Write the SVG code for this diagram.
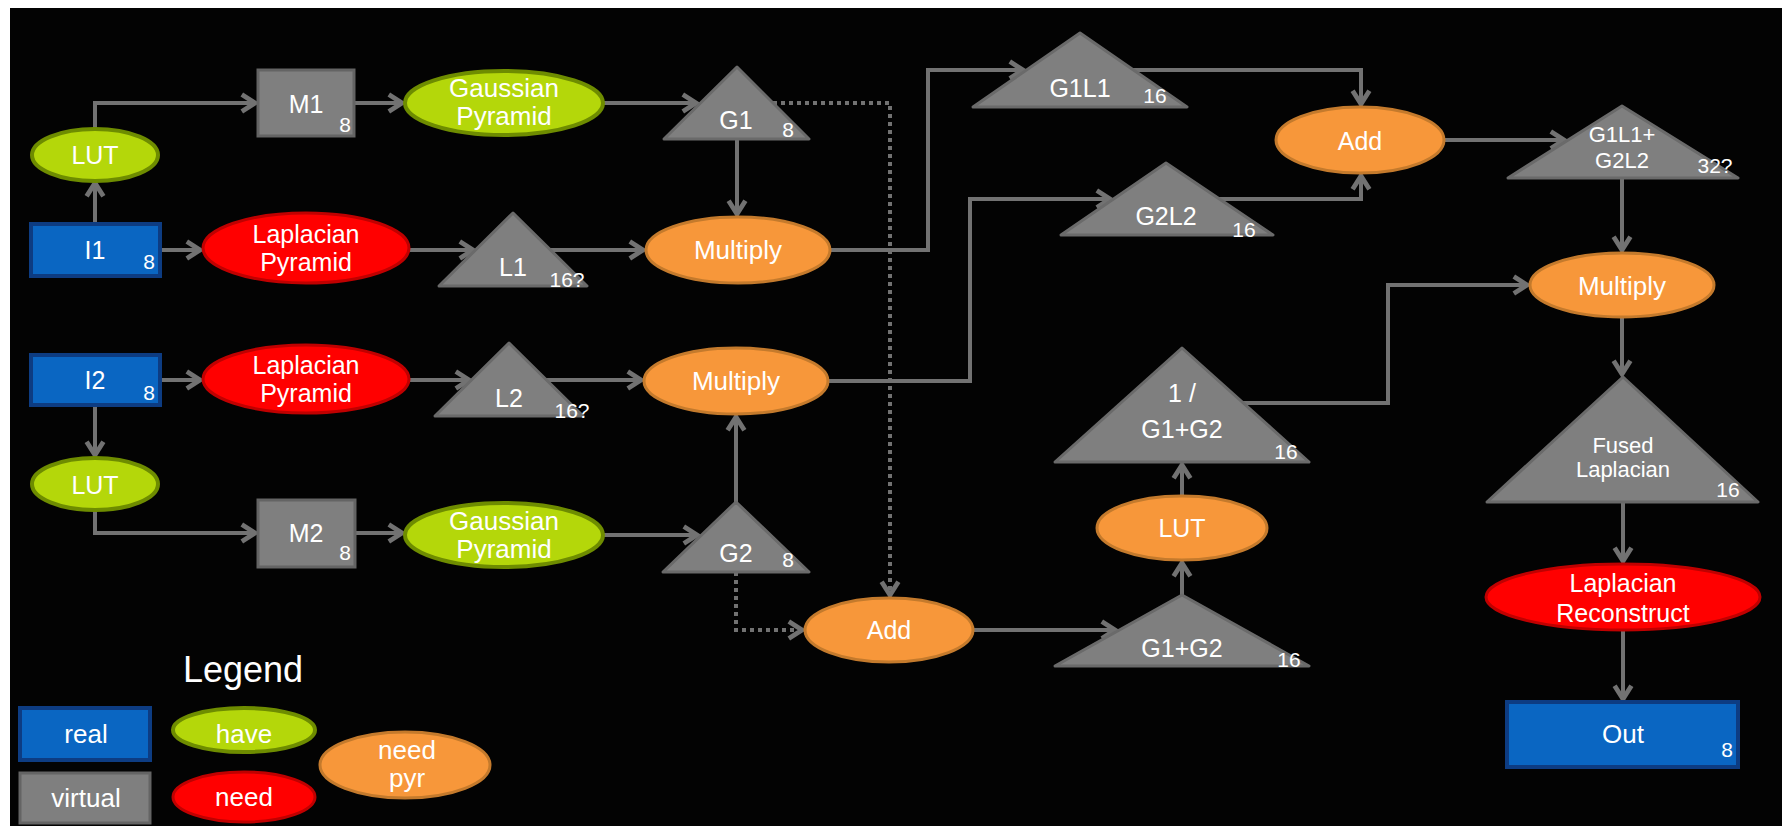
<svg xmlns="http://www.w3.org/2000/svg" width="1787" height="832" viewBox="0 0 1787 832">
<defs>
<style>
.t{font-family:"Liberation Sans",Arial,sans-serif;fill:#ffffff;text-anchor:middle;font-size:25px}
.m{font-size:26px}
.s{font-size:22px}
.n{font-size:21px}
.lg{font-size:26px}
.blue{fill:#0a66c2;stroke:#0d3c82;stroke-width:4}
.gray{fill:#7f7f7f;stroke:#646464;stroke-width:3}
.green{fill:#b4d70a;stroke:#6e8c00;stroke-width:4}
.red{fill:#ff0000;stroke:#c00000;stroke-width:3}
.orange{fill:#f7973a;stroke:#c47a2c;stroke-width:3}
.tri{fill:#7f7f7f;stroke:#6a6a6a;stroke-width:3;stroke-linejoin:round}
.c{fill:none;stroke:#727272;stroke-width:4;marker-end:url(#arr)}
.d{fill:none;stroke:#727272;stroke-width:4;stroke-dasharray:4 4;marker-end:url(#arr)}
</style>
<marker id="arr" markerUnits="userSpaceOnUse" markerWidth="24" markerHeight="24" viewBox="0 0 20 20" refX="16" refY="10" orient="auto" overflow="visible">
<path d="M5,3 L16,10 L5,17" fill="none" stroke="#727272" stroke-width="4"/>
</marker>
</defs>
<rect x="0" y="0" width="1787" height="832" fill="#ffffff"/>
<rect x="10" y="8" width="1772" height="818" fill="#030303"/>
<g id="connectors">
<path class="c" d="M95,224 V183"/>
<path class="c" d="M95,129 V103 H255"/>
<path class="c" d="M354,103 H402"/>
<path class="c" d="M603,103 H696"/>
<path class="c" d="M160,250 H200"/>
<path class="c" d="M409,250 H473"/>
<path class="c" d="M550,250 H643"/>
<path class="c" d="M737,139 V214"/>
<path class="c" d="M830,250 H928 V70 H1023"/>
<path class="c" d="M1133,70 H1361 V104"/>
<path class="c" d="M1219,199 H1361 V176"/>
<path class="c" d="M1444,140 H1564"/>
<path class="c" d="M1622,178 V250"/>
<path class="c" d="M1622,317 V374"/>
<path class="c" d="M1623,502 V561"/>
<path class="c" d="M1623,630 V699"/>
<path class="c" d="M160,380 H200"/>
<path class="c" d="M409,380 H469"/>
<path class="c" d="M546,380 H641"/>
<path class="c" d="M95,405 V455"/>
<path class="c" d="M95,510 V533 H255"/>
<path class="c" d="M355,533 H402"/>
<path class="c" d="M603,535 H697"/>
<path class="c" d="M736,502 V417"/>
<path class="c" d="M828,381 H970 V199 H1110"/>
<path class="d" d="M773,103 H890 V595"/>
<path class="d" d="M736,572 V630 H802"/>
<path class="c" d="M973,630 H1115"/>
<path class="c" d="M1182,595 V563"/>
<path class="c" d="M1182,496 V465"/>
<path class="c" d="M1243,403 H1388 V285 H1527"/>
</g>
<g id="I1"><rect class="blue" x="31" y="224" width="129" height="52"/><text class="t" x="95" y="259">I1</text><text class="t n" x="149" y="269">8</text></g>
<g id="LUT1"><ellipse class="green" cx="95" cy="155" rx="63" ry="26"/><text class="t" x="95" y="164">LUT</text></g>
<g id="M1"><rect class="gray" x="258" y="70" width="96" height="66"/><text class="t" x="306" y="113">M1</text><text class="t n" x="345" y="132">8</text></g>
<g id="GP1"><ellipse class="green" cx="504" cy="103" rx="99" ry="32"/><text class="t m" x="504" y="97">Gaussian</text><text class="t m" x="504" y="125">Pyramid</text></g>
<g id="LP1"><ellipse class="red" cx="306" cy="248" rx="103" ry="35"/><text class="t" x="306" y="243">Laplacian</text><text class="t" x="306" y="271">Pyramid</text></g>
<g id="L1"><polygon class="tri" points="513,213 587,286 439,286"/><text class="t" x="513" y="276">L1</text><text class="t n" x="567" y="287">16?</text></g>
<g id="G1"><polygon class="tri" points="737,67 809,139 664,139"/><text class="t" x="736" y="129">G1</text><text class="t n" x="788" y="137">8</text></g>
<g id="Multiply1"><ellipse class="orange" cx="738" cy="250" rx="92" ry="33"/><text class="t m" x="738" y="259">Multiply</text></g>
<g id="G1L1"><polygon class="tri" points="1080,33 1187,107 973,107"/><text class="t" x="1080" y="97">G1L1</text><text class="t n" x="1155" y="103">16</text></g>
<g id="G2L2"><polygon class="tri" points="1166,163 1273,235 1061,235"/><text class="t" x="1166" y="225">G2L2</text><text class="t n" x="1244" y="237">16</text></g>
<g id="Add1"><ellipse class="orange" cx="1360" cy="140" rx="84" ry="33"/><text class="t" x="1360" y="150">Add</text></g>
<g id="G1L1G2L2"><polygon class="tri" points="1622,106 1738,178 1508,178"/><text class="t s" x="1622" y="142">G1L1+</text><text class="t s" x="1622" y="168">G2L2</text><text class="t n" x="1715" y="173">32?</text></g>
<g id="Multiply3"><ellipse class="orange" cx="1622" cy="285" rx="92" ry="32"/><text class="t m" x="1622" y="295">Multiply</text></g>
<g id="I2"><rect class="blue" x="31" y="355" width="129" height="50"/><text class="t" x="95" y="389">I2</text><text class="t n" x="149" y="400">8</text></g>
<g id="LP2"><ellipse class="red" cx="306" cy="379" rx="103" ry="34"/><text class="t" x="306" y="374">Laplacian</text><text class="t" x="306" y="402">Pyramid</text></g>
<g id="L2"><polygon class="tri" points="509,343 583,416 435,416"/><text class="t" x="509" y="407">L2</text><text class="t n" x="572" y="418">16?</text></g>
<g id="LUT2"><ellipse class="green" cx="95" cy="484" rx="63" ry="26"/><text class="t" x="95" y="494">LUT</text></g>
<g id="M2"><rect class="gray" x="258" y="500" width="97" height="67"/><text class="t" x="306" y="542">M2</text><text class="t n" x="345" y="560">8</text></g>
<g id="GP2"><ellipse class="green" cx="504" cy="535" rx="99" ry="32"/><text class="t m" x="504" y="530">Gaussian</text><text class="t m" x="504" y="558">Pyramid</text></g>
<g id="Multiply2"><ellipse class="orange" cx="736" cy="381" rx="92" ry="33"/><text class="t m" x="736" y="390">Multiply</text></g>
<g id="G2"><polygon class="tri" points="736,502 809,572 663,572"/><text class="t" x="736" y="562">G2</text><text class="t n" x="788" y="567">8</text></g>
<g id="Add2"><ellipse class="orange" cx="889" cy="630" rx="84" ry="32"/><text class="t" x="889" y="639">Add</text></g>
<g id="G1G2"><polygon class="tri" points="1182,595 1309,666 1055,666"/><text class="t" x="1182" y="657">G1+G2</text><text class="t n" x="1289" y="667">16</text></g>
<g id="LUT3"><ellipse class="orange" cx="1182" cy="528" rx="85" ry="32"/><text class="t" x="1182" y="537">LUT</text></g>
<g id="InvG1G2"><polygon class="tri" points="1182,348 1309,462 1055,462"/><text class="t" x="1182" y="402">1 /</text><text class="t" x="1182" y="438">G1+G2</text><text class="t n" x="1286" y="459">16</text></g>
<g id="Fused"><polygon class="tri" points="1623,377 1758,502 1487,502"/><text class="t s" x="1623" y="453">Fused</text><text class="t s" x="1623" y="477">Laplacian</text><text class="t n" x="1728" y="497">16</text></g>
<g id="LR"><ellipse class="red" cx="1623" cy="597" rx="137" ry="33"/><text class="t" x="1623" y="592">Laplacian</text><text class="t" x="1623" y="622">Reconstruct</text></g>
<g id="Out"><rect class="blue" x="1507" y="702" width="231" height="65"/><text class="t m" x="1623" y="743">Out</text><text class="t n" x="1727" y="757">8</text></g>
<g id="legend">
<text class="t" style="font-size:36px" x="243" y="682">Legend</text>
<g id="leg-real"><rect class="blue" x="20" y="708" width="130" height="52"/><text class="t lg" x="86" y="743">real</text></g>
<g id="leg-virtual"><rect class="gray" x="20" y="773" width="130" height="50"/><text class="t lg" x="86" y="807">virtual</text></g>
<g id="leg-have"><ellipse class="green" cx="244" cy="730" rx="71" ry="22"/><text class="t lg" x="244" y="743">have</text></g>
<g id="leg-need"><ellipse class="red" cx="244" cy="797" rx="71" ry="25"/><text class="t lg" x="244" y="806">need</text></g>
<g id="leg-needpyr"><ellipse class="orange" cx="405" cy="765" rx="85" ry="33"/><text class="t lg" x="407" y="759">need</text><text class="t lg" x="407" y="787">pyr</text></g>
</g>
</svg>
